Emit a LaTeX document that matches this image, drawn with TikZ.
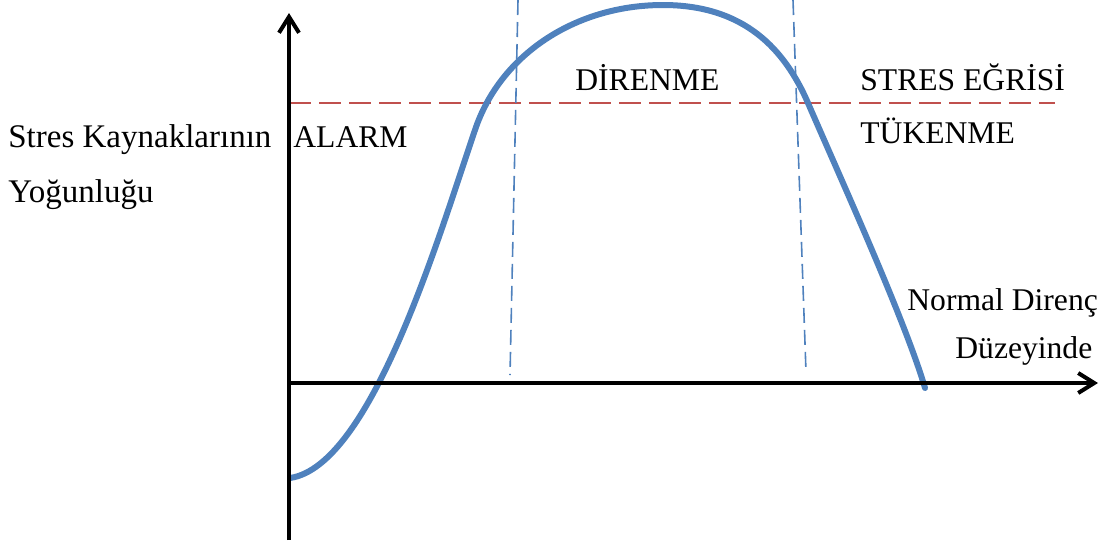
\documentclass[tikz,border=0pt]{standalone}
\usepackage{fontspec}
\setmainfont{Liberation Serif}
\usetikzlibrary{arrows.meta}
\definecolor{egrimavi}{HTML}{4F81BD}
\definecolor{esikkirmizi}{HTML}{C0504D}
\begin{document}
\begin{tikzpicture}[x=0.5pt, y=-0.5pt, font=\fontsize{15.8}{19}\selectfont, line join=round, line cap=round,
	>={Straight Barb[length=8pt,width=10pt]},
	yazi/.style={anchor=base west, inner sep=0pt},
	eksen/.style={line width=2pt, line cap=butt},
	egri/.style={line width=3pt, color=egrimavi},
	sinir/.style={line width=0.8pt, color=egrimavi, dash pattern=on 7.5pt off 3.5pt, line cap=butt},
	esik/.style={line width=1pt, color=esikkirmizi, dash pattern=on 11pt off 4pt, line cap=butt}]
	\useasboundingbox (0,0) rectangle (1109,543);
	\def\ox{289} \def\oy{383} % orijin
	\def\xs{1098} \def\yu{13} \def\ya{540} % x_sağ, y_üst, y_alt
	\coordinate (O) at (\ox,\oy);
	\coordinate (xuc) at (\xs,\oy);
	\coordinate (yust) at (\ox,\yu);
	\coordinate (yalt) at (\ox,\ya);
	% eşik ve evre sınırları
	\draw[esik] (\ox,103) -- (1055,103);
	\draw[sinir] (518,0) -- (510,375);
	\draw[sinir] (793,0) -- (806,372);
	% stres eğrisi
	\draw[egri] (290,478) .. controls (372,466) and (440,232) .. (475,130)
		.. controls (500,55) and (575,5) .. (663,5)
		.. controls (745,5) and (785,50) .. (808,103)
		.. controls (840,177) and (905,320) .. (925,388);
	% eksenler
	\draw[eksen, ->] (O) -- (xuc);
	\draw[eksen, ->] (yalt) -- (yust);
	% yazılar
	\node[yazi, font=\fontsize{16.5}{20}\selectfont] (stres) at (8,147) {Stres Kaynaklarının};
	\node[yazi, font=\fontsize{16.5}{20}\selectfont] (yogun) at (8,202) {Yoğunluğu};
	\node[yazi] (alarm) at (293,147) {ALARM};
	\node[yazi] (direnme) at (575,90) {DİRENME};
	\node[yazi] (egri) at (860,90) {STRES EĞRİSİ};
	\node[yazi] (tukenme) at (860,143) {TÜKENME};
	\node[yazi] (normal) at (907,310) {Normal Direnç};
	\node[yazi] (duzey) at (955,358) {Düzeyinde};
\end{tikzpicture}
\end{document}
